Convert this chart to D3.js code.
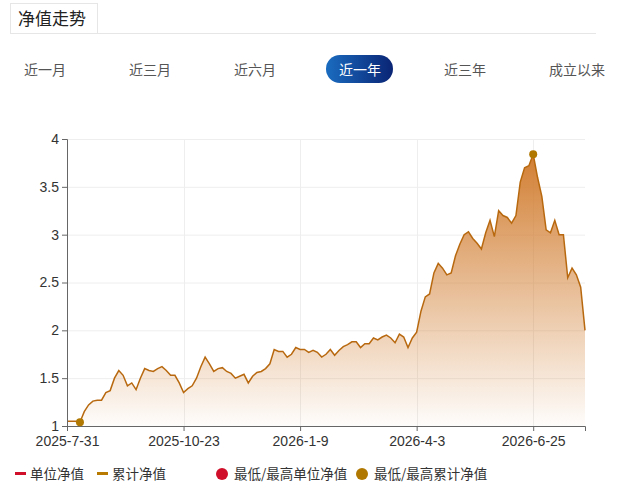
<!DOCTYPE html>
<html><head><meta charset="utf-8">
<script src="https://cdn.jsdelivr.net/npm/d3@7"></script>
<style>body{margin:0;background:#fff;font-family:"Microsoft YaHei","Noto Sans CJK SC",sans-serif;}</style>
</head><body><svg id="c" width="623" height="501"></svg>
<script>
const tabs = ["近一月","近三月","近六月","近一年","近三年","成立以来"];
const tickLabels = ["2025-7-31","2025-10-23","2026-1-9","2026-4-3","2026-6-25"];
const tickIdx = [0,27,54,81,108];
const yTicks = [1,1.5,2,2.5,3,3.5,4];
const cumNav = [1.05,1.05,1.05,1.04,1.15,1.22,1.26,1.27,1.27,1.35,1.37,1.5,1.58,1.53,1.42,1.45,1.38,1.5,1.6,1.58,
1.57,1.6,1.62,1.58,1.53,1.53,1.45,1.35,1.39,1.42,1.5,1.62,1.72,1.65,1.57,1.6,1.61,1.57,1.55,1.5,
1.52,1.54,1.45,1.52,1.56,1.57,1.6,1.65,1.8,1.78,1.78,1.72,1.75,1.82,1.8,1.8,1.77,1.79,1.77,1.72,
1.75,1.8,1.74,1.79,1.83,1.85,1.88,1.88,1.82,1.86,1.86,1.92,1.9,1.93,1.95,1.92,1.87,1.96,1.93,1.82,
1.92,1.98,2.2,2.35,2.38,2.6,2.7,2.65,2.58,2.6,2.78,2.9,3.0,3.03,2.96,2.91,2.85,3.02,3.15,2.98,
3.25,3.2,3.18,3.12,3.2,3.55,3.7,3.72,3.84,3.6,3.4,3.05,3.02,3.15,3.0,3.0,2.55,2.65,2.58,2.45,2.0];
const legend = [["单位净值","line","#d0102a"],["累计净值","line","#b87a00"],["最低/最高单位净值","dot","#d0102a"],["最低/最高累计净值","dot","#b07800"]];

const svg = d3.select("#c");
svg.append("rect").attr("x",10.5).attr("y",3.5).attr("width",87).attr("height",30).attr("fill","#fff").attr("stroke","#e6e6e6");
svg.append("line").attr("x1",97).attr("x2",596).attr("y1",33.5).attr("y2",33.5).attr("stroke","#e6e6e6");
svg.append("text").attr("x",18).attr("y",25).attr("font-size",17).attr("fill","#222").text("净值走势");
const grad0 = svg.append("defs").append("linearGradient").attr("id","pill");
grad0.append("stop").attr("offset","0").attr("stop-color","#1a6cc0");
grad0.append("stop").attr("offset","1").attr("stop-color","#0a2474");
const tabX = [45,150,255,360,465,577];
tabs.forEach((t,i)=>{
  if(i===3) svg.append("rect").attr("x",326).attr("y",55).attr("width",67).attr("height",28).attr("rx",14).attr("fill","url(#pill)");
  svg.append("text").attr("x",tabX[i]).attr("y",75).attr("text-anchor","middle").attr("font-size",14)
    .attr("fill",i===3?"#fff":"#555").text(t);
});
const L=67,R=585,T=139,B=426;
const x = d3.scaleLinear().domain([0,cumNav.length-1]).range([L,R]);
const y = d3.scaleLinear().domain([1,4]).range([B,T]);
const g = svg.append("g");
g.selectAll(".gy").data(yTicks.slice(1)).enter().append("line").attr("x1",L).attr("x2",R)
  .attr("y1",d=>y(d)+0.5).attr("y2",d=>y(d)+0.5).attr("stroke","#eee");
g.selectAll(".gx").data(tickIdx.slice(1)).enter().append("line").attr("y1",T).attr("y2",B)
  .attr("x1",d=>Math.round(x(d))+0.5).attr("x2",d=>Math.round(x(d))+0.5).attr("stroke","#eee");
const lg = svg.select("defs").append("linearGradient").attr("id","fill")
  .attr("gradientUnits","userSpaceOnUse").attr("x1",0).attr("y1",y(3.84)).attr("x2",0).attr("y2",B);
lg.append("stop").attr("offset","0").attr("stop-color","#d27f33");
lg.append("stop").attr("offset","1").attr("stop-color","#d27f33").attr("stop-opacity",0.02);
g.append("path").datum(cumNav).attr("fill","url(#fill)")
  .attr("d",d3.area().x((d,i)=>x(i)).y0(B).y1(d=>y(d)));
g.append("path").datum(cumNav).attr("fill","none").attr("stroke","#b8690f").attr("stroke-width",1.5)
  .attr("d",d3.line().x((d,i)=>x(i)).y(d=>y(d)));
const ya = svg.append("g").attr("transform",`translate(${L},0)`).call(d3.axisLeft(y).tickValues(yTicks).tickSize(5).tickFormat(d3.format("")));
ya.select(".domain").attr("stroke","#666");
ya.selectAll("line").attr("stroke","#666");
ya.selectAll("text").attr("font-size",14).attr("fill","#333").attr("font-family","sans-serif");
const xa = svg.append("g").attr("transform",`translate(0,${B})`).call(d3.axisBottom(x).tickValues(tickIdx).tickSize(5).tickFormat((d,i)=>tickLabels[i]));
xa.select(".domain").attr("stroke","#666");
xa.selectAll("line").attr("stroke","#666");
xa.selectAll("text").attr("font-size",14).attr("fill","#333").attr("font-family","sans-serif").attr("dy","0.85em");
const iMin = cumNav.indexOf(d3.min(cumNav)), iMax = cumNav.indexOf(d3.max(cumNav));
[iMin,iMax].forEach(i=>svg.append("circle").attr("cx",x(i)).attr("cy",y(cumNav[i])).attr("r",4).attr("fill","#b07800"));
const lx=[15,97,222,362];
legend.forEach((l,i)=>{
  if(l[1]==="line") svg.append("rect").attr("x",lx[i]).attr("y",472).attr("width",11).attr("height",3).attr("fill",l[2]);
  else svg.append("circle").attr("cx",lx[i]).attr("cy",474).attr("r",6).attr("fill",l[2]);
  svg.append("text").attr("x",lx[i]+(l[1]==="line"?15:12)).attr("y",479).attr("font-size",13.5).attr("fill","#333").text(l[0]);
});
</script></body></html>
